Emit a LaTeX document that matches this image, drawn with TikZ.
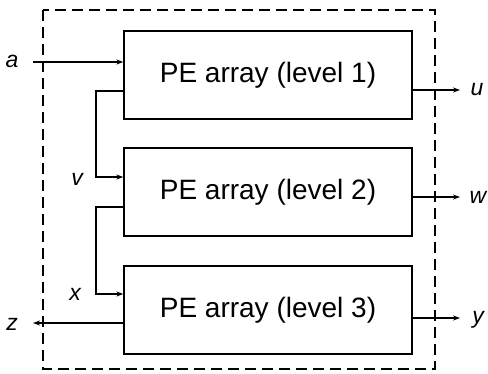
\documentclass[tikz,border=0pt]{standalone}
\usepackage{fontspec}
\setmainfont{Liberation Sans}
\usetikzlibrary{arrows.meta}

\begin{document}
\begin{tikzpicture}[x=1pt,y=-1pt,
    pe/.style={draw,line width=1.3pt,minimum width=288pt,minimum height=88pt,
      inner sep=0pt,font=\fontsize{28}{32}\selectfont},
    lbl/.style={anchor=base,inner sep=0pt,font=\itshape\fontsize{23}{26}\selectfont},
    wire/.style={line width=1.2pt},
    arr/.style={wire,-{Stealth[length=7pt,width=5pt]}}]
      \useasboundingbox (0,0) rectangle (488,373);
      \draw[line width=1.1pt,dash pattern=on 11pt off 6pt] (43,10) rectangle (435,369);
      \node[pe](L1) at (268,75) {PE array (level 1)};
      \node[pe](L2) at (268,192) {PE array (level 2)};
      \node[pe](L3) at (268,310) {PE array (level 3)};
      % free ends and bends
      \coordinate (ain) at (33,62);
      \coordinate (zout) at (33,323);
      \coordinate (uout) at (460,90);
      \coordinate (wout) at (460,197);
      \coordinate (yout) at (460,318);
      \coordinate (v1) at (96,91);
      \coordinate (v2) at (96,177);
      \coordinate (x1) at (96,207);
      \coordinate (x2) at (96,294);
      \draw[arr] (ain) -- (ain -| L1.west);
      \draw[arr] (v1 -| L1.west) -- (v1) -- (v2) -- (v2 -| L2.west);
      \draw[arr] (x1 -| L2.west) -- (x1) -- (x2) -- (x2 -| L3.west);
      \draw[arr] (zout -| L3.west) -- (zout);
      \draw[arr] (uout -| L1.east) -- (uout);
      \draw[arr] (wout -| L2.east) -- (wout);
      \draw[arr] (yout -| L3.east) -- (yout);
      % labels
      \node[lbl](a) at (12,67) {a};
      \node[lbl](v) at (77,185) {v};
      \node[lbl](x) at (75,300) {x};
      \node[lbl](z) at (12,330) {z};
      \node[lbl](u) at (477,95) {u};
      \node[lbl](w) at (478,203) {w};
      \node[lbl](y) at (478,323) {y};
    \end{tikzpicture}
\end{document}
